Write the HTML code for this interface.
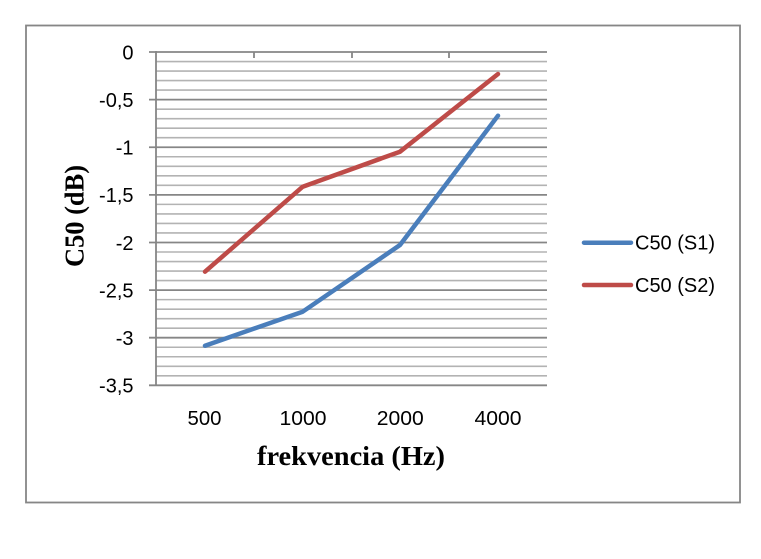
<!DOCTYPE html>
<html><head><meta charset="utf-8"><style>
html,body{margin:0;padding:0;background:#fff;}
svg{display:block;}
</style></head><body>
<svg width="761" height="559" viewBox="0 0 761 559" xmlns="http://www.w3.org/2000/svg">
<rect x="0" y="0" width="761" height="559" fill="#fff"/>
<rect x="26" y="25.5" width="714" height="477" fill="#fff" stroke="#868686" stroke-width="1.8"/>
<g stroke="#b3b3b3" stroke-width="1.6">
<line x1="156" x2="547" y1="61.52" y2="61.52"/><line x1="156" x2="547" y1="71.05" y2="71.05"/><line x1="156" x2="547" y1="80.57" y2="80.57"/><line x1="156" x2="547" y1="90.1" y2="90.1"/>
<line x1="156" x2="547" y1="109.14" y2="109.14"/><line x1="156" x2="547" y1="118.67" y2="118.67"/><line x1="156" x2="547" y1="128.19" y2="128.19"/><line x1="156" x2="547" y1="137.71" y2="137.71"/>
<line x1="156" x2="547" y1="156.76" y2="156.76"/><line x1="156" x2="547" y1="166.28" y2="166.28"/><line x1="156" x2="547" y1="175.81" y2="175.81"/><line x1="156" x2="547" y1="185.33" y2="185.33"/>
<line x1="156" x2="547" y1="204.38" y2="204.38"/><line x1="156" x2="547" y1="213.9" y2="213.9"/><line x1="156" x2="547" y1="223.43" y2="223.43"/><line x1="156" x2="547" y1="232.95" y2="232.95"/>
<line x1="156" x2="547" y1="252" y2="252"/><line x1="156" x2="547" y1="261.52" y2="261.52"/><line x1="156" x2="547" y1="271.05" y2="271.05"/><line x1="156" x2="547" y1="280.57" y2="280.57"/>
<line x1="156" x2="547" y1="299.62" y2="299.62"/><line x1="156" x2="547" y1="309.14" y2="309.14"/><line x1="156" x2="547" y1="318.67" y2="318.67"/><line x1="156" x2="547" y1="328.19" y2="328.19"/>
<line x1="156" x2="547" y1="347.24" y2="347.24"/><line x1="156" x2="547" y1="356.76" y2="356.76"/><line x1="156" x2="547" y1="366.28" y2="366.28"/><line x1="156" x2="547" y1="375.81" y2="375.81"/>
</g>
<g stroke="#868686" stroke-width="1.8">
<line x1="149" x2="547" y1="52" y2="52"/>
<line x1="149" x2="547" y1="99.62" y2="99.62"/>
<line x1="149" x2="547" y1="147.24" y2="147.24"/>
<line x1="149" x2="547" y1="194.86" y2="194.86"/>
<line x1="149" x2="547" y1="242.48" y2="242.48"/>
<line x1="149" x2="547" y1="290.1" y2="290.1"/>
<line x1="149" x2="547" y1="337.71" y2="337.71"/>
<line x1="149" x2="547" y1="385.33" y2="385.33"/>
<line x1="156" x2="156" y1="51" y2="386"/>
<line x1="254" x2="254" y1="52" y2="58"/>
<line x1="352" x2="352" y1="52" y2="58"/>
<line x1="449" x2="449" y1="52" y2="58"/>
</g>
<g font-family="'Liberation Sans', Arial, sans-serif" font-size="20" fill="#000" text-anchor="end">
<text x="133.5" y="59.3">0</text>
<text x="133.5" y="106.9">-0,5</text>
<text x="133.5" y="154.5">-1</text>
<text x="133.5" y="202.2">-1,5</text>
<text x="133.5" y="249.8">-2</text>
<text x="133.5" y="297.4">-2,5</text>
<text x="133.5" y="345">-3</text>
<text x="133.5" y="392.6">-3,5</text>
</g>
<g font-family="'Liberation Sans', Arial, sans-serif" font-size="20" fill="#000" text-anchor="middle">
<text x="204.5" y="425" textLength="34" lengthAdjust="spacingAndGlyphs">500</text>
<text x="303" y="425" textLength="47" lengthAdjust="spacingAndGlyphs">1000</text>
<text x="400.3" y="425" textLength="47" lengthAdjust="spacingAndGlyphs">2000</text>
<text x="498" y="425" textLength="47" lengthAdjust="spacingAndGlyphs">4000</text>
</g>
<text x="351" y="465" font-family="'Liberation Serif', 'Times New Roman', serif" font-weight="bold" font-size="27" text-anchor="middle" textLength="188" lengthAdjust="spacingAndGlyphs">frekvencia (Hz)</text>
<text transform="translate(83.5,216) rotate(-90)" x="0" y="0" font-family="'Liberation Serif', 'Times New Roman', serif" font-weight="bold" font-size="27" text-anchor="middle" textLength="102" lengthAdjust="spacingAndGlyphs">C50 (dB)</text>
<polyline points="205,345.7 302.7,311.7 400,245 498,115.7" fill="none" stroke="#4a7ebb" stroke-width="4.5" stroke-linejoin="round" stroke-linecap="round"/>
<polyline points="205,271.7 302.7,186.7 400,151.7 498,74" fill="none" stroke="#be4b48" stroke-width="4.5" stroke-linejoin="round" stroke-linecap="round"/>
<line x1="584" x2="631" y1="242.7" y2="242.7" stroke="#4a7ebb" stroke-width="4.5" stroke-linecap="round"/>
<line x1="584" x2="631" y1="285" y2="285" stroke="#be4b48" stroke-width="4.5" stroke-linecap="round"/>
<g font-family="'Liberation Sans', Arial, sans-serif" font-size="20" fill="#000">
<text x="635" y="249.5" textLength="80" lengthAdjust="spacingAndGlyphs">C50 (S1)</text>
<text x="635" y="291.8" textLength="80" lengthAdjust="spacingAndGlyphs">C50 (S2)</text>
</g>
</svg>
</body></html>
